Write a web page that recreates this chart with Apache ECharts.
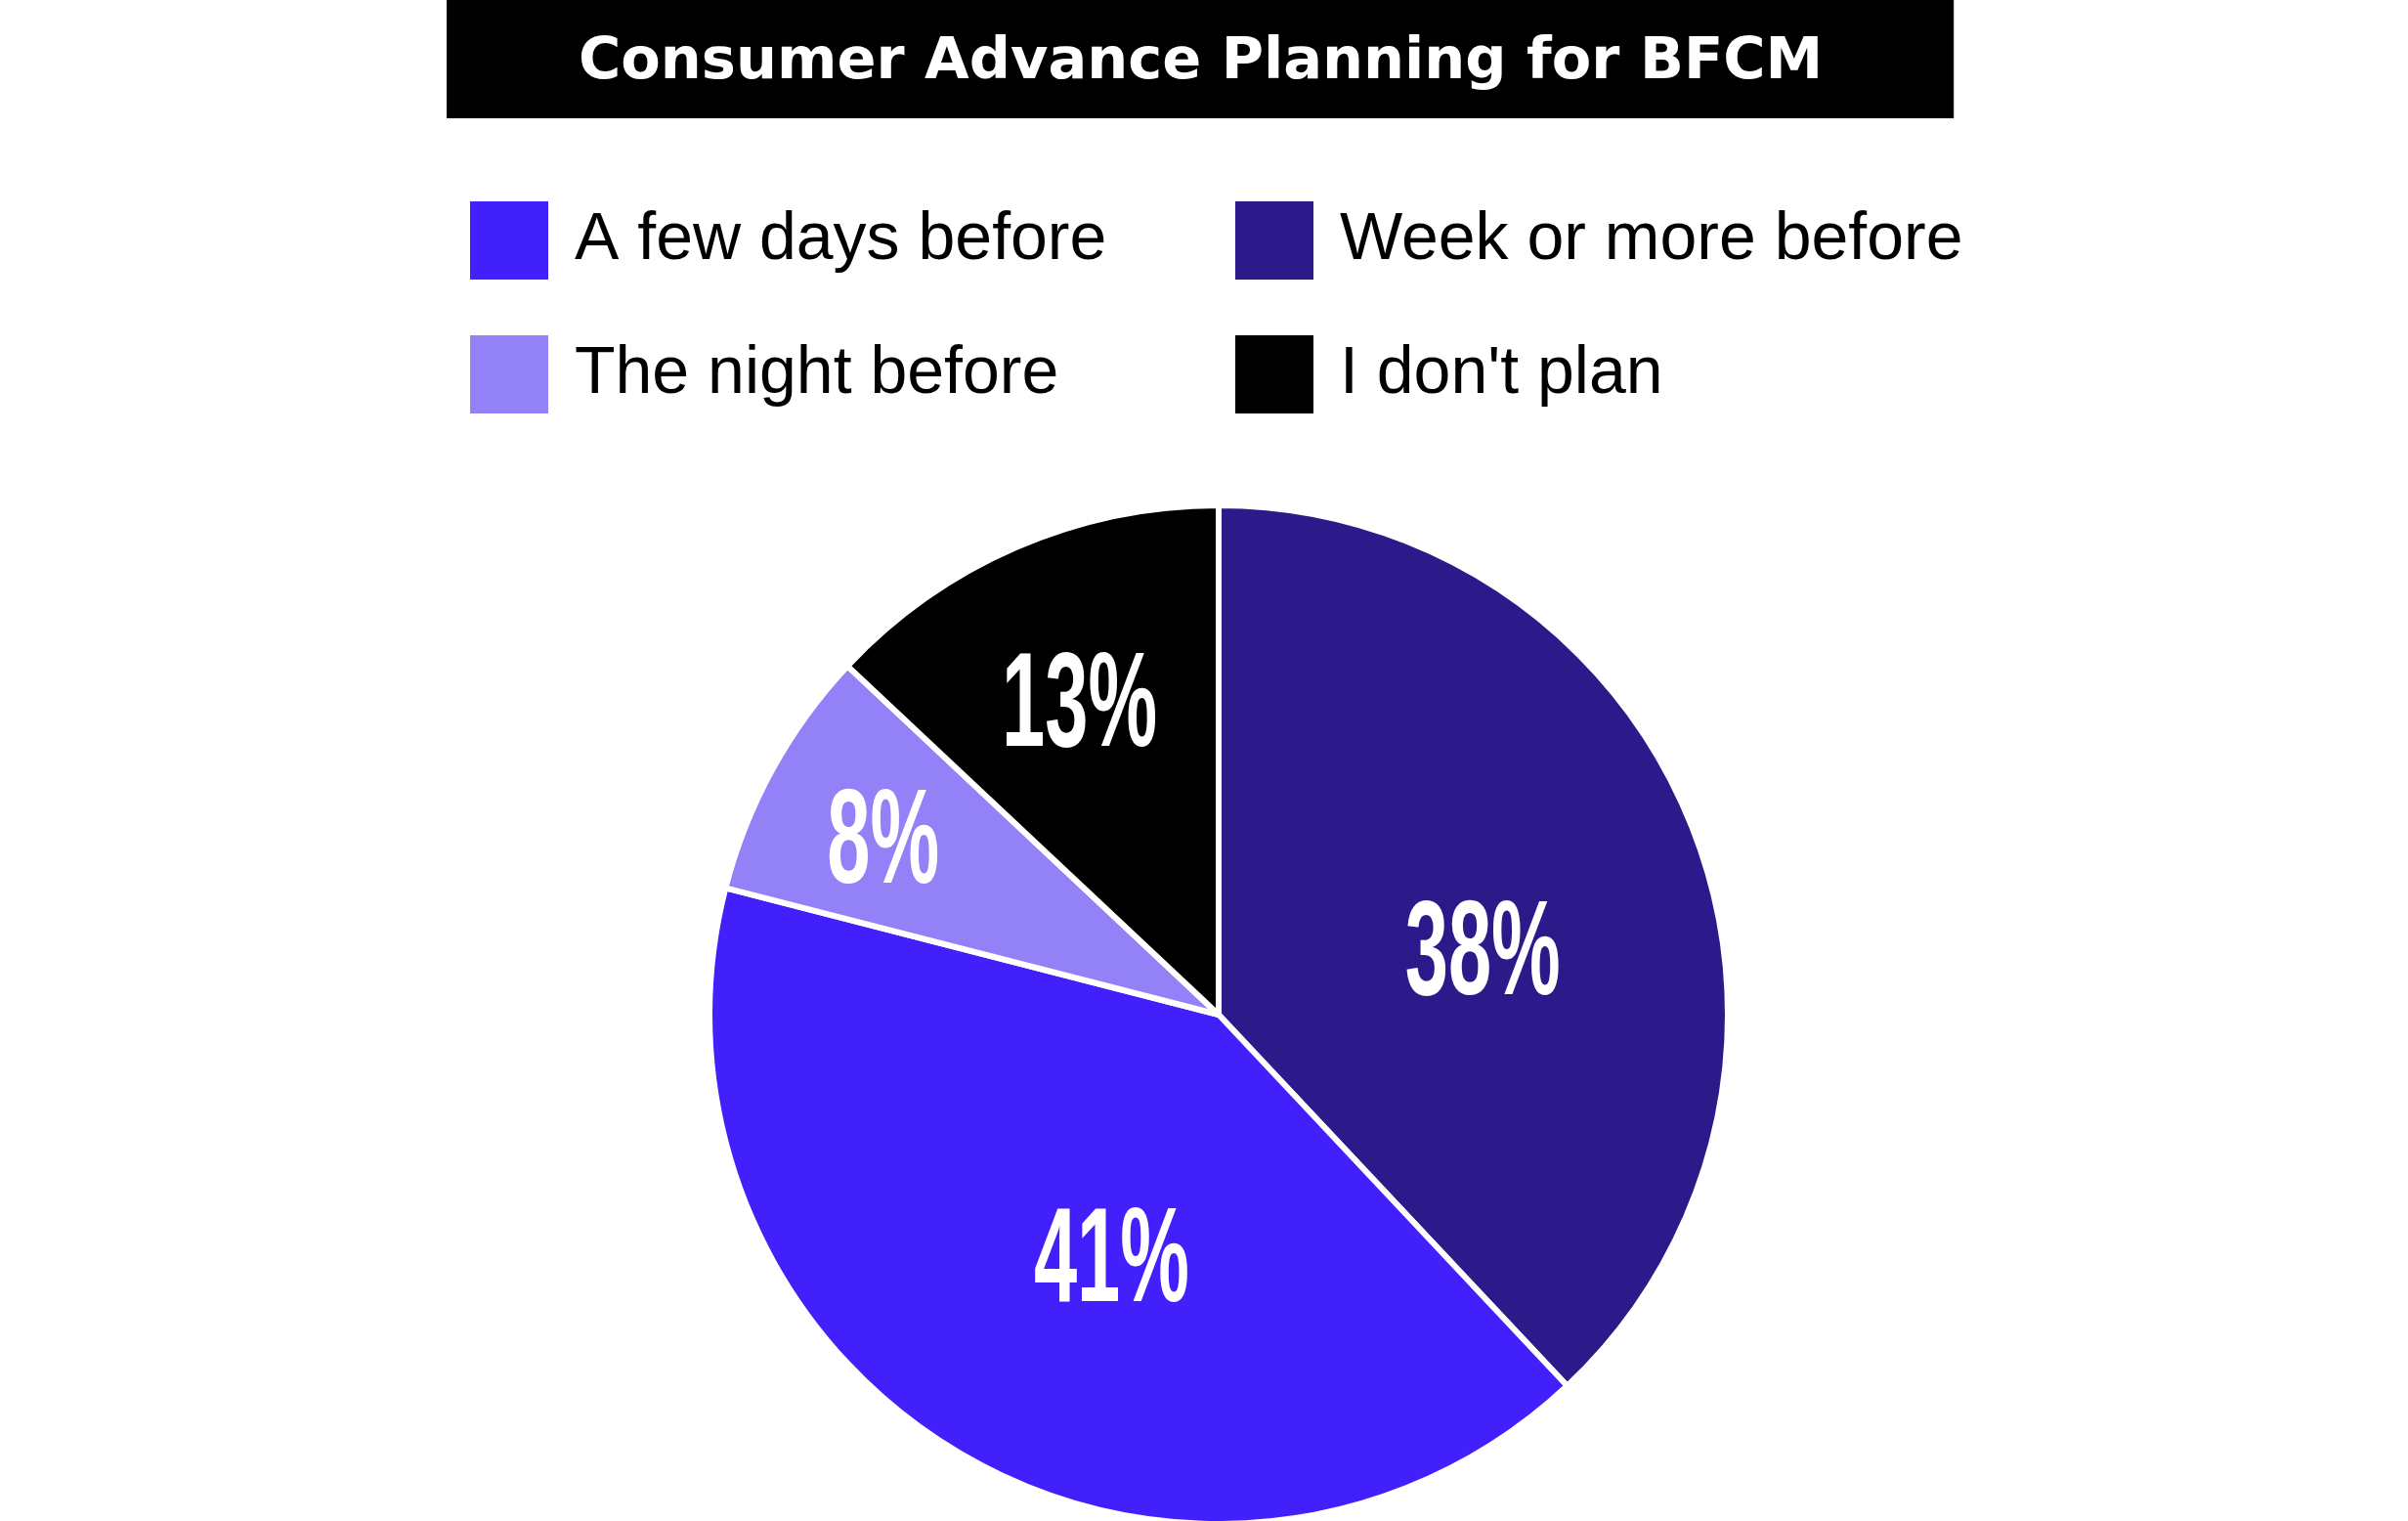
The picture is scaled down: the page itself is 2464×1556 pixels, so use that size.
<!DOCTYPE html>
<html>
<head>
<meta charset="utf-8">
<script src="https://cdn.jsdelivr.net/npm/echarts@6/dist/echarts.min.js"></script>
<style>
  html, body { margin: 0; padding: 0; background: #fff; }
  #chart { width: 2464px; height: 1556px; }
</style>
</head>
<body>
<div id="chart"></div>
<script>
// slices, clockwise from 12 o'clock
const categories = ['Week or more before', 'A few days before', 'The night before', "I don't plan"];
const shares = [38, 41, 8, 13];
const sliceColors = ['#2c1a8a', '#4120fb', '#9281f7', '#000000'];
const legendLeft = ['A few days before', 'The night before'];
const legendRight = ['Week or more before', "I don't plan"];
const titleText = 'Consumer Advance Planning for BFCM';

// the percentages don't sit on the mid radius in the original: px nudge from there
const labelNudge = {
  'Week or more before': [28, 37],
  'A few days before': [23, 31],
  'The night before': [-115, -47],
  "I don't plan": [-39, -74],
};

const legendText = {
  color: '#000',
  fontFamily: '"Liberation Sans", Arial, sans-serif',
  fontSize: 68,
  padding: [0, 0, 0, 21],
};

const legendBase = {
  orient: 'vertical',
  top: 204,
  padding: 0,
  itemWidth: 82,
  itemHeight: 82,
  itemGap: 53,
  icon: 'rect',
  textStyle: legendText,
  selectedMode: false,
};

const chart = echarts.init(document.getElementById('chart'));

chart.setOption({
  animation: false,
  backgroundColor: '#fff',
  title: {
    text: titleText,
    left: 457,
    top: 0,
    backgroundColor: '#000',
    padding: [35, 134, 27, 135],
    textStyle: {
      color: '#fff',
      fontFamily: '"DejaVu Sans", sans-serif',
      fontWeight: 'bold',
      fontSize: 59,
      lineHeight: 59,
    },
  },
  legend: [
    Object.assign({}, legendBase, { left: 479, data: legendLeft }),
    Object.assign({}, legendBase, { left: 1262, data: legendRight }),
  ],
  series: [
    {
      type: 'pie',
      center: [1247, 1038],
      radius: 521,
      startAngle: 90,
      clockwise: true,
      itemStyle: { borderColor: '#fff', borderWidth: 6 },
      emphasis: { disabled: true },
      label: { show: false },
      labelLine: { show: false },
      data: categories.map((name, i) => ({
        name,
        value: shares[i],
        itemStyle: { color: sliceColors[i] },
      })),
    },
  ],
});

// percentage labels: condensed look needs scaleX, so they go in as graphic text
// placed from the pie's own sector layout
const pieData = chart.getModel().getSeriesByIndex(0).getData();
const labels = [];
pieData.each((idx) => {
  const lay = pieData.getItemLayout(idx);
  const mid = (lay.startAngle + lay.endAngle) / 2;
  const rr = (lay.r + lay.r0) / 2;
  const name = pieData.getName(idx);
  const nudge = labelNudge[name] || [0, 0];
  labels.push({
    type: 'text',
    x: lay.cx + rr * Math.cos(mid) + nudge[0],
    y: lay.cy + rr * Math.sin(mid) + nudge[1],
    scaleX: 0.58,
    z: 100,
    silent: true,
    style: {
      text: pieData.get('value', idx) + '%',
      fill: '#fff',
      fontFamily: '"Liberation Sans", Arial, sans-serif',
      fontWeight: 'bold',
      fontSize: 137,
      align: 'center',
      verticalAlign: 'middle',
      textAlign: 'center',
      textVerticalAlign: 'middle',
    },
  });
});
chart.setOption({ graphic: labels });
</script>
</body>
</html>
